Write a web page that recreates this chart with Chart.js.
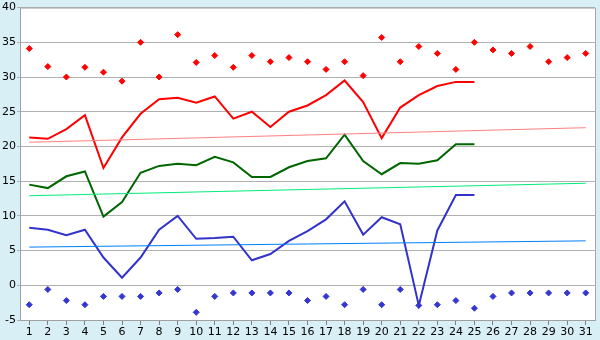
<!DOCTYPE html>
<html>
<head>
<meta charset="utf-8">
<script src="https://cdn.jsdelivr.net/npm/chart.js@4"></script>
<style>
  html, body { margin: 0; padding: 0; background: #d9eff6; }
  #wrap { width: 600px; height: 340px; }
</style>
</head>
<body>
<div id="wrap"><canvas id="chart"></canvas></div>
<script>
const days = ['1','2','3','4','5','6','7','8','9','10','11','12','13','14','15','16',
  '17','18','19','20','21','22','23','24','25','26','27','28','29','30','31'];

// daily curves (days 1-25)
const redLine = [21.3, 21.1, 22.5, 24.5, 16.9, 21.3, 24.7, 26.8, 27.0, 26.3, 27.2, 24.0, 25.0,
  22.8, 25.0, 25.9, 27.4, 29.5, 26.4, 21.2, 25.6, 27.4, 28.7, 29.3, 29.3];
const greenLine = [14.5, 14.0, 15.7, 16.4, 9.9, 12.0, 16.2, 17.2, 17.5, 17.3, 18.5, 17.7, 15.6,
  15.6, 17.0, 17.9, 18.3, 21.7, 17.9, 16.0, 17.6, 17.5, 18.0, 20.3, 20.3];
const blueLine = [8.3, 8.0, 7.2, 8.0, 4.0, 1.1, 4.0, 8.0, 10.0, 6.7, 6.8, 7.0, 3.6, 4.5, 6.4,
  7.8, 9.5, 12.1, 7.3, 9.8, 8.8, -2.9, 7.9, 13.0, 13.0];

// extremes (all days)
const redPoints = [34.1, 31.5, 30.0, 31.4, 30.7, 29.4, 35.0, 30.0, 36.1, 32.1, 33.1, 31.4, 33.1,
  32.2, 32.8, 32.2, 31.1, 32.2, 30.2, 35.7, 32.2, 34.4, 33.4, 31.1, 35.0, 33.9, 33.4, 34.4,
  32.2, 32.8, 33.4];
const bluePoints = [-2.8, -0.6, -2.2, -2.8, -1.6, -1.6, -1.6, -1.1, -0.6, -3.9, -1.6, -1.1, -1.1,
  -1.1, -1.1, -2.2, -1.6, -2.8, -0.6, -2.8, -0.6, -2.9, -2.8, -2.2, -3.3, -1.6, -1.1, -1.1,
  -1.1, -1.1, -1.1];

// trend lines: value at day 1 and day 31
const redTrend = [20.6, 22.7];
const greenTrend = [12.9, 14.7];
const blueTrend = [5.5, 6.4];

const yTicks = [-5, 0, 5, 10, 15, 20, 25, 30, 35, 40];

const trend = (vals) => [
  { x: days[0], y: vals[0] },
  { x: days[days.length - 1], y: vals[1] },
];

const plotFrame = {
  id: 'plotFrame',
  beforeDraw(chart) {
    const { ctx, chartArea: a } = chart;
    ctx.save();
    ctx.fillStyle = '#ffffff';
    ctx.fillRect(a.left, a.top, a.right - a.left, a.bottom - a.top);
    ctx.restore();
  },
  afterDraw(chart) {
    const { ctx, chartArea: a } = chart;
    ctx.save();
    ctx.strokeStyle = '#a8a8a8';
    ctx.lineWidth = 1;
    ctx.beginPath();
    ctx.moveTo(a.left, a.top + 0.5);
    ctx.lineTo(a.right + 0.5, a.top + 0.5);
    ctx.lineTo(a.right + 0.5, a.bottom);
    ctx.stroke();
    ctx.restore();
  }
};

const pointSet = (data, color) => ({
  data: data,
  showLine: false,
  pointStyle: 'rectRot',
  pointRadius: 3,
  pointBackgroundColor: color,
  pointBorderColor: color,
  pointBorderWidth: 1,
});

const lineSet = (data, color, width) => ({
  data: data,
  borderColor: color,
  borderWidth: width,
  pointRadius: 0,
  tension: 0,
  fill: false,
});

new Chart(document.getElementById('chart').getContext('2d'), {
  type: 'line',
  data: {
    labels: days,
    datasets: [
      lineSet(trend(redTrend), '#ff8080', 1),
      lineSet(trend(greenTrend), '#00ee77', 1),
      lineSet(trend(blueTrend), '#0080ff', 1),
      lineSet(redLine, '#ff0000', 2),
      lineSet(greenLine, '#006600', 2),
      lineSet(blueLine, '#3333cc', 2),
      pointSet(redPoints, '#ff0000'),
      pointSet(bluePoints, '#3535d0'),
    ],
  },
  options: {
    responsive: true,
    maintainAspectRatio: false,
    animation: false,
    layout: { padding: { top: 5, right: 5, left: 0, bottom: 0 } },
    plugins: { legend: { display: false }, tooltip: { enabled: false } },
    scales: {
      x: {
        offset: true,
        afterFit: (s) => { s.height = 20; },
        grid: { drawOnChartArea: false, drawTicks: true, tickLength: 5, color: '#808080' },
        border: { color: '#a0a0a0' },
        ticks: {
          color: '#000',
          padding: 1,
          maxRotation: 0,
          autoSkip: false,
          font: { family: 'DejaVu Sans', size: 11 },
        },
      },
      y: {
        min: -5,
        max: 40,
        afterFit: (s) => { s.width = 20; },
        afterBuildTicks: (s) => { s.ticks = yTicks.map((v) => ({ value: v })); },
        grid: { color: '#b0b0b0', tickLength: 3 },
        border: { color: '#a0a0a0' },
        ticks: {
          color: '#000',
          padding: 1,
          font: { family: 'DejaVu Sans', size: 11 },
        },
      },
    },
  },
  plugins: [plotFrame],
});
</script>
</body>
</html>
